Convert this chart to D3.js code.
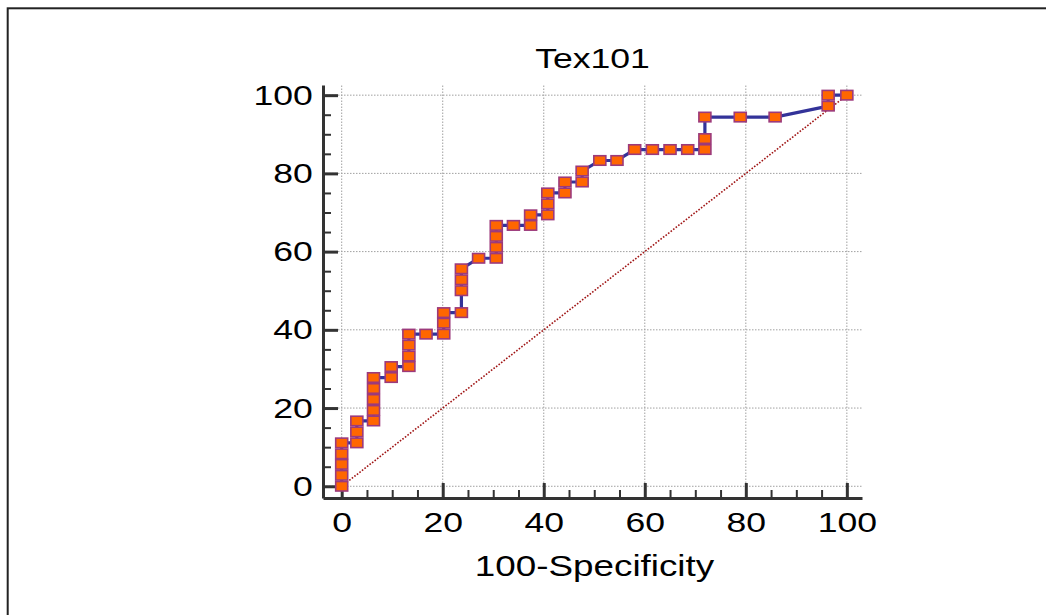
<!DOCTYPE html>
<html>
<head>
<meta charset="utf-8">
<script src="https://cdn.jsdelivr.net/npm/d3@7"></script>
<style>
    body { margin: 0; background: #fff; }
    #chart { width: 1046px; height: 615px; }
    text { font-family: "Liberation Sans", Arial, sans-serif; fill: #000; }
</style>
</head>
<body>
<div id="chart"></div>
<script>
// region Data
const chartTitle = 'Tex101';
const xTitle = '100-Specificity';
// 100-Specificity of each ROC point
const fpr = [
    0, 0, 0, 0, 0,
    3.0, 3.0, 3.0,
    6.3, 6.3, 6.3, 6.3, 6.3,
    9.8, 9.8,
    13.3, 13.3, 13.3, 13.3,
    16.7,
    20.2, 20.2, 20.2,
    23.7, 23.7, 23.7, 23.7,
    27.1,
    30.6, 30.6, 30.6, 30.6,
    34.0,
    37.4, 37.4,
    40.8, 40.8, 40.8,
    44.2, 44.2,
    47.6, 47.6,
    51.1,
    54.5,
    58.0,
    61.5, 65.0, 68.5,
    71.9, 71.9, 71.9,
    78.9, 85.8,
    96.3, 96.3,
    100
];
// Sensitivity of each ROC point
const sens = [
    0, 2.8, 5.6, 8.3, 11.1,
    11.1, 13.9, 16.7,
    16.7, 19.4, 22.2, 25.0, 27.8,
    27.8, 30.6,
    30.6, 33.3, 36.1, 38.9,
    38.9,
    38.9, 41.7, 44.4,
    44.4, 50.0, 52.8, 55.6,
    58.3,
    58.3, 61.1, 63.9, 66.7,
    66.7,
    66.7, 69.4,
    69.4, 72.2, 75.0,
    75.0, 77.8,
    77.8, 80.6,
    83.3,
    83.3,
    86.1,
    86.1, 86.1, 86.1,
    86.1, 88.9, 94.4,
    94.4, 94.4,
    97.2, 100,
    100
];
const majorTicks = [0, 20, 40, 60, 80, 100];
const minorTicks = [5, 10, 15, 25, 30, 35, 45, 50, 55, 65, 70, 75, 85, 90, 95];
const diagonal = [0, 100];
// endregion

// region Chart
let w = 1046,
    h = 615,
    stretch = 1.27,
    navy = '#333399',
    orange = '#ff6600';

let df = fpr.map((v, i) => ({x: v, y: sens[i]}));

let svg = d3.select('#chart')
    .append('svg')
    .attr('width', w)
    .attr('height', h);

// outer frame (only top and left show in the picture)
svg.append('rect')
    .attr('x', 7.7)
    .attr('y', 8.3)
    .attr('width', 1200)
    .attr('height', 800)
    .attr('fill', 'none')
    .attr('stroke', '#222')
    .attr('stroke-width', 2);

const x = d3.scaleLinear()
    .domain([-3.7, 103])
    .range([323, 862]);

const y = d3.scaleLinear()
    .domain([-3, 102.6])
    .range([498, 85]);

// grid
svg.append('g')
    .selectAll('line')
    .data(majorTicks).enter()
    .append('line')
    .attr('x1', d => x(d))
    .attr('x2', d => x(d))
    .attr('y1', y.range()[0])
    .attr('y2', y.range()[1])
    .attr('stroke', '#a0a0a0')
    .attr('stroke-width', 1)
    .attr('stroke-dasharray', '1.5,1.5');

svg.append('g')
    .selectAll('line')
    .data(majorTicks).enter()
    .append('line')
    .attr('x1', x.range()[0])
    .attr('x2', x.range()[1])
    .attr('y1', d => y(d))
    .attr('y2', d => y(d))
    .attr('stroke', '#a0a0a0')
    .attr('stroke-width', 1)
    .attr('stroke-dasharray', '1.5,1.5');

// axes, ticks pointing inward
let xAxis = svg.append('g')
    .attr('transform', `translate(0, ${y.range()[0]})`)
    .call(d3.axisBottom(x)
        .tickValues(majorTicks)
        .tickSizeInner(-15)
        .tickSizeOuter(0)
        .tickPadding(14));

svg.append('g')
    .attr('transform', `translate(0, ${y.range()[0]})`)
    .call(d3.axisBottom(x)
        .tickValues(minorTicks)
        .tickSizeInner(-8)
        .tickSizeOuter(0)
        .tickFormat(''))
    .call(g => g.select('.domain').remove())
    .selectAll('line')
    .attr('stroke', '#333')
    .attr('stroke-width', 2);

let yAxis = svg.append('g')
    .attr('transform', `translate(${x.range()[0]}, 0)`)
    .call(d3.axisLeft(y)
        .tickValues(majorTicks)
        .tickSizeInner(-15)
        .tickSizeOuter(0)
        .tickPadding(8));

svg.append('g')
    .attr('transform', `translate(${x.range()[0]}, 0)`)
    .call(d3.axisLeft(y)
        .tickValues(minorTicks)
        .tickSizeInner(-8)
        .tickSizeOuter(0)
        .tickFormat(''))
    .call(g => g.select('.domain').remove())
    .selectAll('line')
    .attr('stroke', '#333')
    .attr('stroke-width', 2);

[xAxis, yAxis].forEach(a => {
    a.select('.domain')
        .attr('stroke', '#333')
        .attr('stroke-width', 3);
    a.selectAll('.tick line')
        .attr('stroke', '#333')
        .attr('stroke-width', 3);
    a.selectAll('.tick text')
        .attr('font-family', '"Liberation Sans", Arial, sans-serif')
        .attr('font-size', 28)
        .attr('fill', '#000')
        .attr('transform', `scale(${stretch},1)`);
});

// reference diagonal
svg.append('line')
    .attr('x1', x(diagonal[0]))
    .attr('y1', y(diagonal[0]))
    .attr('x2', x(diagonal[1]))
    .attr('y2', y(diagonal[1]))
    .attr('stroke', '#a01515')
    .attr('stroke-width', 1.6)
    .attr('stroke-dasharray', '1.6,1.6');

// ROC curve
svg.append('path')
    .datum(df)
    .attr('d', d3.line().x(d => x(d.x)).y(d => y(d.y)))
    .attr('fill', 'none')
    .attr('stroke', navy)
    .attr('stroke-width', 3.2);

svg.selectAll('.marker')
    .data(df).enter()
    .append('rect')
    .attr('class', 'marker')
    .attr('x', d => x(d.x) - 6)
    .attr('y', d => y(d.y) - 4.75)
    .attr('width', 12)
    .attr('height', 9.5)
    .attr('fill', orange)
    .attr('stroke', '#9c3a7c')
    .attr('stroke-width', 1.6);

// titles
svg.append('text')
    .attr('transform', `translate(${(x.range()[0] + x.range()[1]) / 2}, 68) scale(${stretch},1)`)
    .attr('text-anchor', 'middle')
    .attr('font-size', 28)
    .text(chartTitle);

svg.append('text')
    .attr('transform', `translate(${(x.range()[0] + x.range()[1]) / 2 + 2}, 576) scale(${stretch},1)`)
    .attr('text-anchor', 'middle')
    .attr('font-size', 29)
    .text(xTitle);
// endregion
</script>
</body>
</html>
